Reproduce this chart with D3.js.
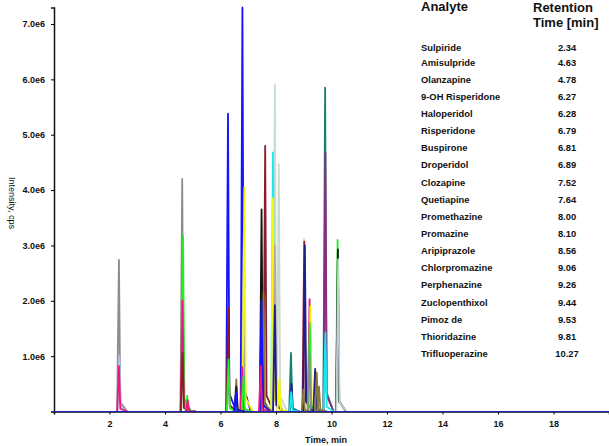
<!DOCTYPE html>
<html>
<head>
<meta charset="utf-8">
<script src="https://cdn.jsdelivr.net/npm/d3@7"></script>
<style>
  html, body { margin: 0; padding: 0; background: #fff; }
  svg { display: block; font-family: "Liberation Sans", Arial, sans-serif; }
</style>
</head>
<body>
<svg id="chart" width="609" height="446"></svg>
<script>
// ---- Data ----
const analytes = ["Sulpiride","Amisulpride","Olanzapine","9-OH Risperidone","Haloperidol","Risperidone","Buspirone","Droperidol","Clozapine","Quetiapine","Promethazine","Promazine","Aripiprazole","Chlorpromazine","Perphenazine","Zuclopenthixol","Pimoz de","Thioridazine","Trifluoperazine"];
const retentionTimes = ["2.34","4.63","4.78","6.27","6.28","6.79","6.81","6.89","7.52","7.64","8.00","8.10","8.56","9.06","9.26","9.44","9.53","9.81","10.27"];

const xTicks = [2, 4, 6, 8, 10, 12, 14, 16, 18];
const yTicks = [1e6, 2e6, 3e6, 4e6, 5e6, 6e6, 7e6];
const yTickLabels = ["1.0e6","2.0e6","3.0e6","4.0e6","5.0e6","6.0e6","7.0e6"];

// peaks: apex time (min), apex intensity (cps), trace
const peakTime   = [2.34, 2.36, 2.34, 4.62, 4.65, 4.63, 4.63, 4.80, 4.82,
                    6.27, 6.28, 6.29, 6.57, 6.57, 6.56,
                    6.79, 6.78, 6.83, 6.86,
                    7.48, 7.48, 7.45, 7.55, 7.61,
                    7.89, 7.89, 7.96, 7.96, 7.96, 8.10, 8.12,
                    8.54, 8.55, 8.56,
                    9.01, 9.02, 9.04, 8.99,
                    9.21, 9.22, 9.20, 9.24,
                    9.41, 9.47, 9.55,
                    9.77, 9.78, 9.78,
                    10.22, 10.23, 10.24];
const peakHeight = [2.74e6, 1.0e6, 0.82e6, 4.2e6, 3.17e6, 2.0e6, 1.06e6, 0.28e6, 0.2e6,
                    5.38e6, 1.88e6, 0.94e6, 0.58e6, 0.45e6, 0.35e6,
                    7.3e6, 0.8e6, 0.64e6, 4.05e6,
                    3.65e6, 2.0e6, 0.82e6, 2.15e6, 4.8e6,
                    4.68e6, 3.85e6, 5.9e6, 3.0e6, 1.92e6, 4.47e6, 0.6e6,
                    1.06e6, 0.35e6, 0.5e6,
                    3.12e6, 3.07e6, 3.0e6, 0.4e6,
                    2.03e6, 1.6e6, 1.06e6, 1.9e6,
                    0.77e6, 0.7e6, 0.45e6,
                    5.85e6, 4.68e6, 1.43e6,
                    3.1e6, 2.93e6, 2.75e6];
const peakTrace  = ["gray","lightblue","pink","gray","green","pink","maroon","green","pink",
                    "blue","maroon","green","olive","black","blue",
                    "blue","pink","green","yellow",
                    "black","blue","pink","olive","maroon",
                    "cyan","yellow","pale","mauve","navy","pale","yellow",
                    "teal","cyan","navy",
                    "palepink","maroon","navy","olive",
                    "pink","green","gray","yellow",
                    "navy","olive","olive",
                    "teal","purple","cyan",
                    "green","black","palegray"];

const traceColor = {
  gray: "#8c8c8c", lightblue: "#a9c3e6", pink: "#f2147f", green: "#22ee22",
  maroon: "#8b1a2a", blue: "#1414ff", olive: "#8a7a3a", black: "#151515",
  yellow: "#f8f800", cyan: "#1ae8f0", pale: "#c9dbc9", mauve: "#c2a0b2",
  navy: "#1e1e8c", teal: "#168070", purple: "#8c2a84", palepink: "#f0c8d2",
  palegray: "#c4ced4"
};

// ---- Layout ----
const svg = d3.select("#chart");
const x = d3.scaleLinear().domain([0, 20]).range([54, 609]);
const y = d3.scaleLinear().domain([0, 7.3e6]).range([411.5, 7.4]);

const line = d3.line().x(d => x(d[0])).y(d => y(d[1]));

const peaks = peakTime.map((t, i) => ({ t, h: peakHeight[i], c: traceColor[peakTrace[i]] }))
  .sort((a, b) => b.h - a.h);

const gPeaks = svg.append("g");
peaks.forEach(p => {
  const pts = [[p.t - 0.065, 0], [p.t, p.h], [p.t + 0.05, p.h * 0.06], [p.t + 0.3, 0]];
  gPeaks.append("path").attr("d", line(pts))
    .attr("fill", "none").attr("stroke", p.c).attr("stroke-width", 1.8)
    .attr("stroke-linejoin", "round");
});

// axes
const xAxis = svg.append("g").attr("transform", `translate(0,${y(0)})`)
  .call(d3.axisBottom(x).tickValues(xTicks).tickSize(3).tickPadding(6).tickFormat(d3.format("d")));
xAxis.select(".domain").attr("stroke", "#111").attr("stroke-width", 1.5);
xAxis.selectAll("text").attr("font-size", "9px").attr("font-weight", "bold").attr("fill", "#111").attr("font-family", "Liberation Sans, Arial, sans-serif");

const yAxis = svg.append("g").attr("transform", `translate(${x(0)},0)`)
  .call(d3.axisLeft(y).tickValues(yTicks).tickSize(3).tickPadding(6).tickFormat((d, i) => yTickLabels[i]));
yAxis.select(".domain").attr("stroke", "#111").attr("stroke-width", 1.5);
yAxis.selectAll("text").attr("font-size", "9px").attr("font-weight", "bold").attr("fill", "#111").attr("font-family", "Liberation Sans, Arial, sans-serif");

// blue baseline trace on top of axis
svg.append("path").attr("d", line([[0, 0], [20, 0]]))
  .attr("fill", "none").attr("stroke", "#2020c0").attr("stroke-width", 1);

// axis titles
svg.append("text").attr("x", 326).attr("y", 443).attr("text-anchor", "middle")
  .attr("font-size", "9px").attr("font-weight", "bold").attr("fill", "#111").text("Time, min");
svg.append("text").attr("transform", "translate(9,203) rotate(90)").attr("text-anchor", "middle")
  .attr("font-size", "9px").attr("fill", "#111").text("Intensity, cps");

// legend table
const gL = svg.append("g").attr("fill", "#111").attr("font-weight", "bold");
gL.append("text").attr("x", 421).attr("y", 10.5).attr("font-size", "13px").text("Analyte");
gL.append("text").attr("x", 533).attr("y", 12).attr("font-size", "13px").text("Retention");
gL.append("text").attr("x", 533).attr("y", 26.5).attr("font-size", "13px").text("Time [min]");
analytes.forEach((name, i) => {
  const yy = i === 0 ? 51 : 65.5 + (i - 1) * 17.15;
  gL.append("text").attr("x", 421).attr("y", yy).attr("font-size", "9.4px").text(name);
  gL.append("text").attr("x", 567).attr("y", yy).attr("font-size", "9.4px").attr("text-anchor", "middle").text(retentionTimes[i]);
});
</script>
</body>
</html>
